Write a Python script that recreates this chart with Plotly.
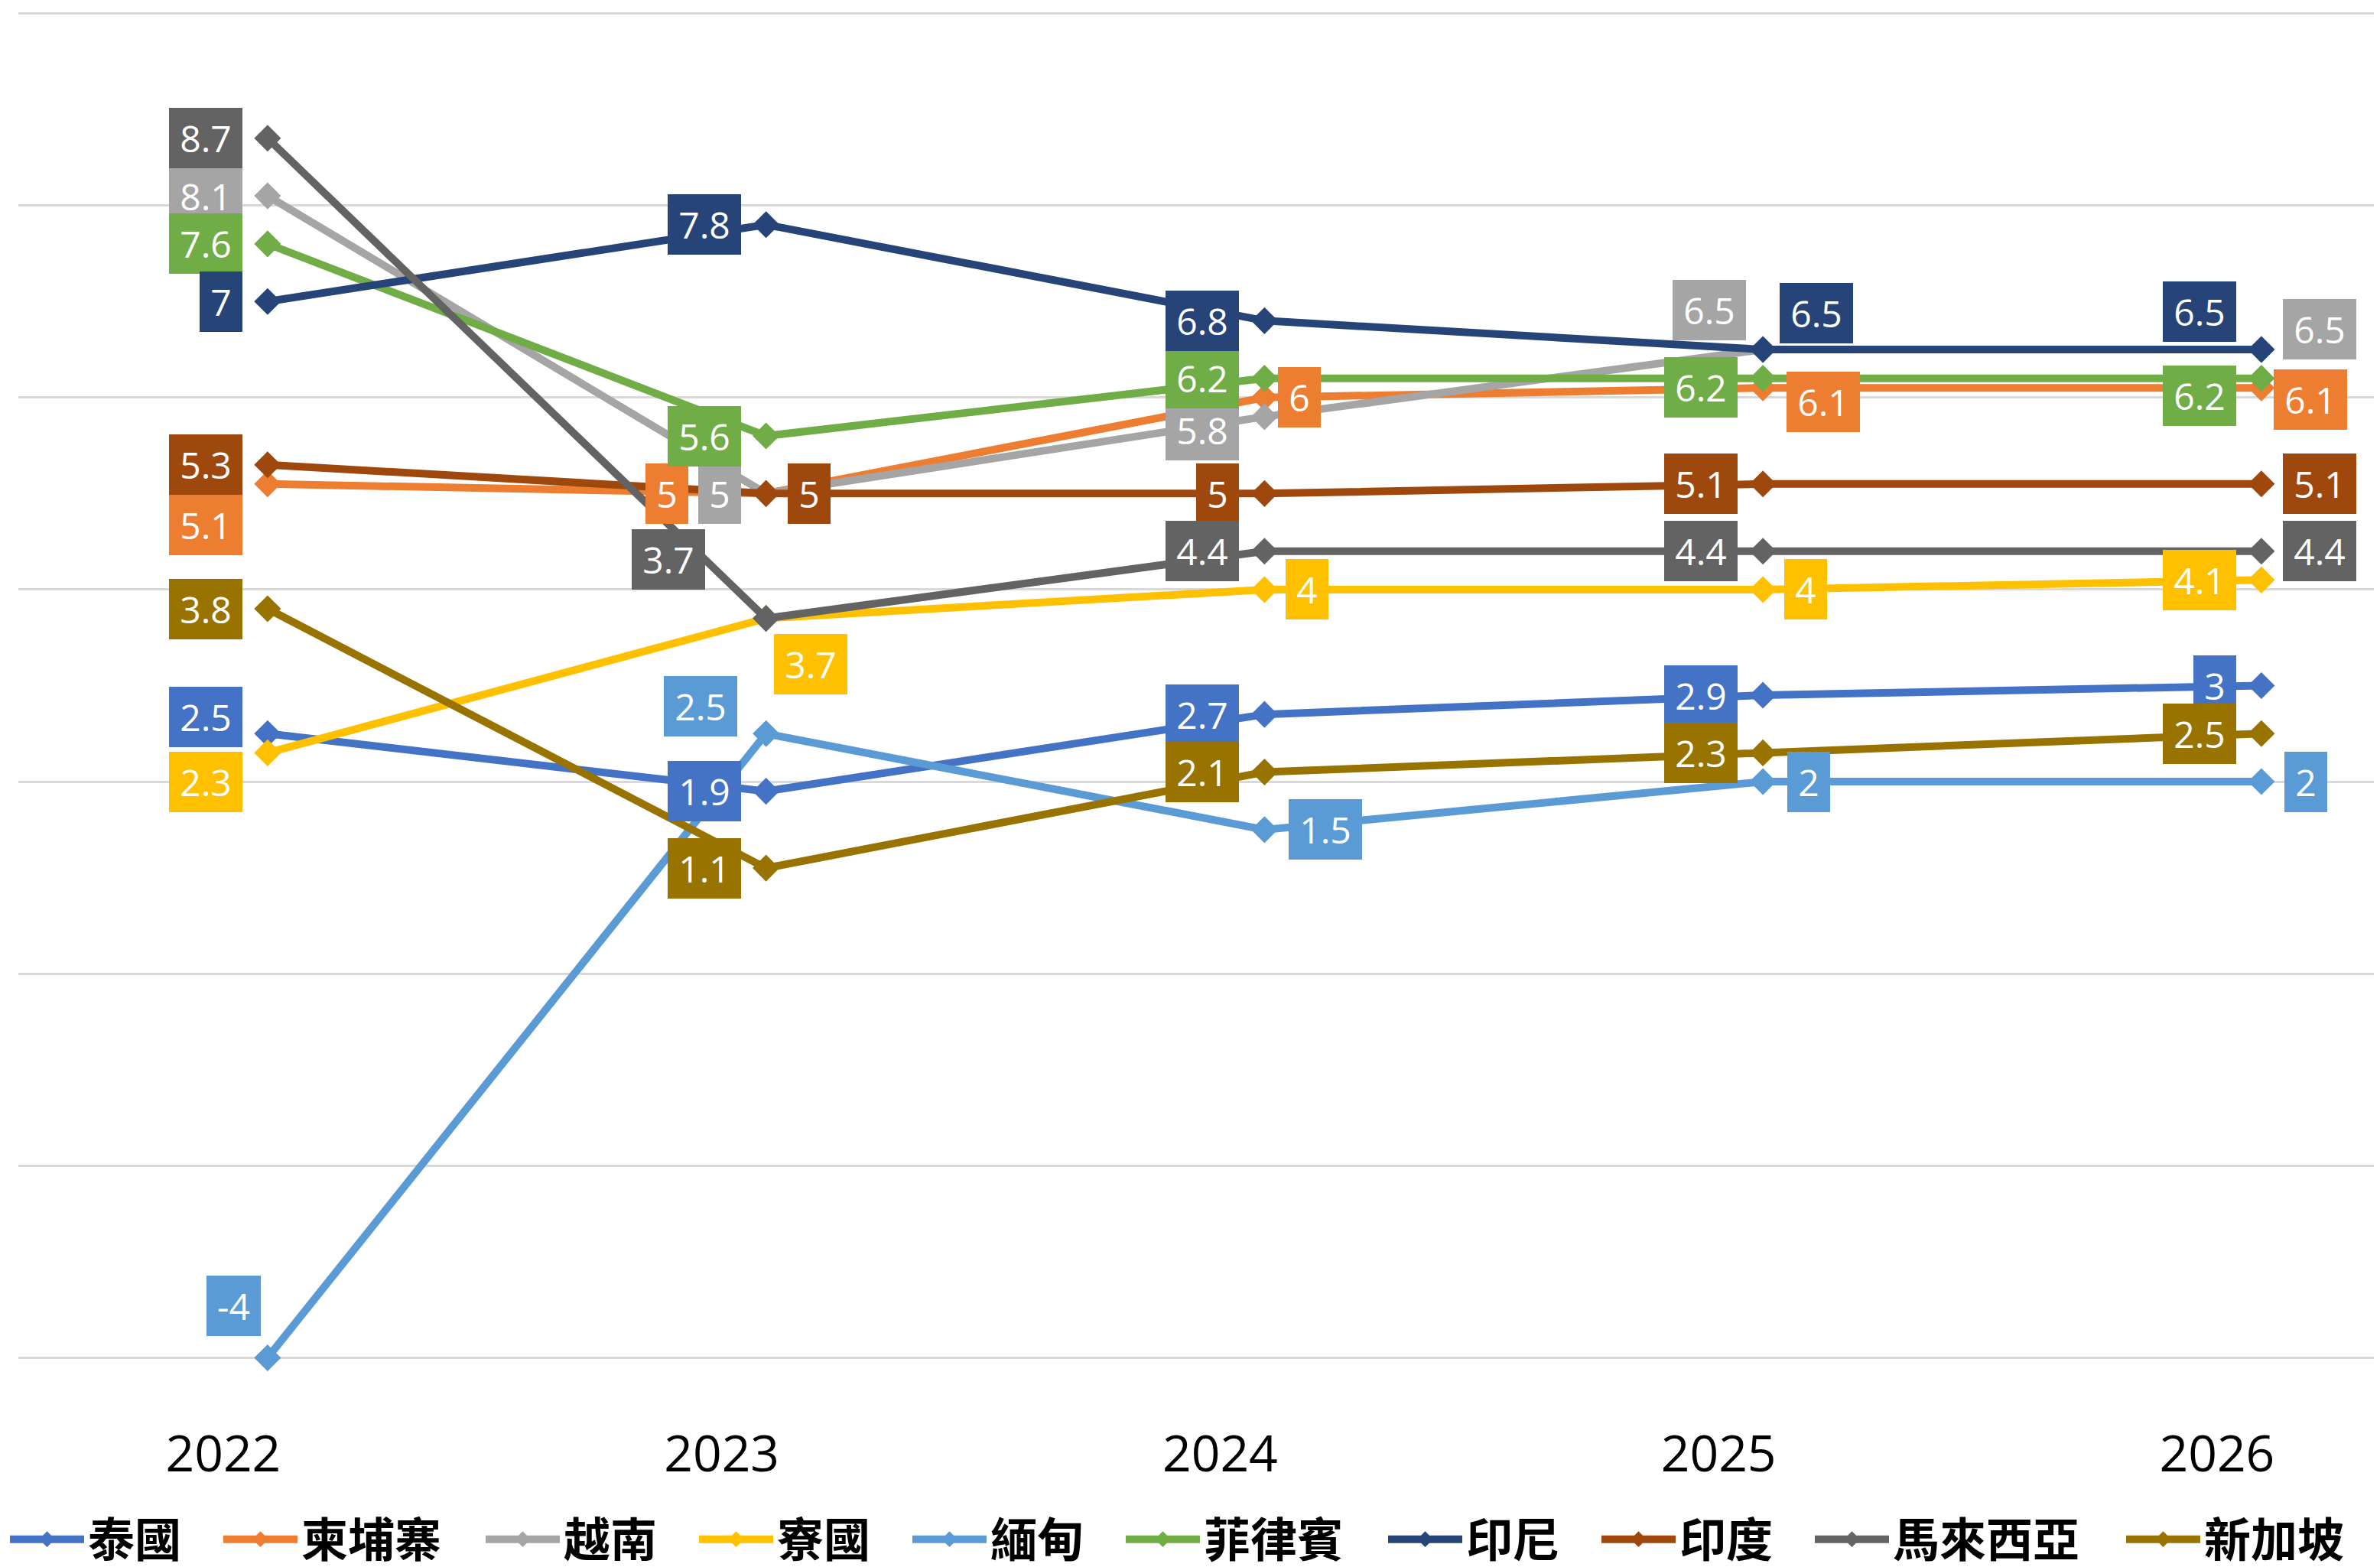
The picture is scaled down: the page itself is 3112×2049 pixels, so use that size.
import plotly.graph_objects as go

# ---------------- data ----------------
years = ["2022", "2023", "2024", "2025", "2026"]
names = ["泰國", "柬埔寨", "越南", "寮國", "緬甸", "菲律賓", "印尼", "印度", "馬來西亞", "新加坡"]

thailand = [2.5, 1.9, 2.7, 2.9, 3]
cambodia = [5.1, 5, 6, 6.1, 6.1]
vietnam = [8.1, 5, 5.8, 6.5, 6.5]
laos = [2.3, 3.7, 4, 4, 4.1]
myanmar = [-4, 2.5, 1.5, 2, 2]
philippines = [7.6, 5.6, 6.2, 6.2, 6.2]
indonesia = [7, 7.8, 6.8, 6.5, 6.5]
india = [5.3, 5, 5, 5.1, 5.1]
malaysia = [8.7, 3.7, 4.4, 4.4, 4.4]
singapore = [3.8, 1.1, 2.1, 2.3, 2.5]

series = [thailand, cambodia, vietnam, laos, myanmar,
          philippines, indonesia, india, malaysia, singapore]

# ---------------- styles ----------------
colors = ["#4472C4", "#ED7D31", "#A5A5A5", "#FFC000", "#5B9BD5",
          "#70AD47", "#264478", "#9E480E", "#636363", "#997300"]

# data-label placement per point: (side, extra dx px, extra dy px downward)
label_pos = [
    [("l", 0, -22), ("l", 0, 0), ("l", 0, 0), ("l", 0, 0), ("l", 0, 0)],
    [("l", 0, 54), ("l", -69, 0), ("r", -10, 0), ("r", 3, 18), ("r", -12, 15)],
    [("l", 0, 0), ("l", 0, 0), ("l", 0, 18), ("l", 11, -52), ("r", 0, -27)],
    [("l", 0, 38), ("r", -18, 60), ("r", 0, 0), ("r", 0, 0), ("l", 0, 0)],
    [("l", 24, -68), ("l", -5, -36), ("r", 4, 0), ("r", 4, 0), ("r", 2, 0)],
    [("l", 0, 0), ("l", 0, 0), ("l", 0, 0), ("l", 0, 12), ("l", 0, 23)],
    [("l", 0, 0), ("l", 0, 0), ("l", 0, 0), ("r", -6, -48), ("l", 0, -50)],
    [("l", 0, 0), ("r", 0, 0), ("l", 0, 0), ("l", 0, 0), ("r", 0, 0)],
    [("l", 0, 0), ("l", -47, -77), ("l", 0, 0), ("l", 0, 0), ("r", 0, 0)],
    [("l", 0, 0), ("l", 0, 0), ("l", 0, 0), ("l", 0, 0), ("l", 0, 0)],
]

W, H = 3112, 2049
OFF = 8  # page body margin offset
ML, MR, MT = 24 - OFF, OFF, 16 - OFF
MB = H - (1777 - OFF)
PW = W - ML - MR
PH = H - MT - MB
CAT_PX = 651.75  # pixel spacing between categories

LABEL_FONT = dict(family="Open Sans, Noto Sans, sans-serif", size=48, color="#FFFFFF")
LEGEND_FONT = dict(family="Noto Sans CJK TC, sans-serif", size=61, color="#000000", weight="bold")


def text_width(s):
    w = 0.0
    for ch in s:
        if ch == ".":
            w += 12.5
        elif ch == "-":
            w += 15.5
        else:
            w += 27.5
    return w


fig = go.Figure()

for i, (name, vals, col) in enumerate(zip(names, series, colors)):
    lg = "legend" if i == 0 else f"legend{i + 1}"
    fig.add_trace(go.Scatter(
        x=years, y=vals, name=name, mode="lines+markers",
        line=dict(color=col, width=10),
        marker=dict(symbol="diamond", size=27, color=col, line=dict(width=0)),
        cliponaxis=False, legend=lg, hoverinfo="skip",
    ))

for i, (vals, col) in enumerate(zip(series, colors)):
    for j, v in enumerate(vals):
        side, dx, dy = label_pos[i][j]
        txt = f"{v:g}"
        if side == "l":
            xanchor, xshift = "right", -33 + dx
        else:
            xanchor, xshift = "left", 28 + dx
        fig.add_annotation(
            x=j, y=v, xref="x", yref="y", text=txt, showarrow=False,
            xanchor=xanchor, yanchor="middle", xshift=xshift, yshift=-dy,
            bgcolor=col, borderpad=0, borderwidth=0,
            width=round(text_width(txt) + 28), height=79,
            font=LABEL_FONT, align="center", valign="middle",
        )

layout_legends = {}
start = 13.0 - OFF
for i, name in enumerate(names):
    lg = "legend" if i == 0 else f"legend{i + 1}"
    layout_legends[lg] = dict(
        orientation="h", x=(start - ML - 5) / PW, xanchor="left",
        y=(MT + PH - (2013 - OFF)) / PH, yanchor="middle",
        font=LEGEND_FONT, itemwidth=97, bgcolor="rgba(0,0,0,0)", borderwidth=0,
    )
    start += 151 + 64 * len(name)

fig.update_layout(
    width=W, height=H,
    margin=dict(l=ML, r=MR, t=MT, b=MB, pad=0, autoexpand=False),
    paper_bgcolor="#FFFFFF", plot_bgcolor="#FFFFFF",
    showlegend=True,
    xaxis=dict(
        type="category", range=[-0.5, -0.5 + PW / CAT_PX],
        showgrid=False, zeroline=False, showline=False, ticks="",
        tickfont=dict(family="Open Sans, Noto Sans, sans-serif", size=66, color="#000000"),
        ticklabelshift=-58, ticklabelstandoff=80,
    ),
    yaxis=dict(
        range=[-4.012, 10.012], tickvals=[-4, -2, 0, 2, 4, 6, 8, 10],
        showticklabels=False,
        showgrid=True, gridcolor="#D9D9D9", gridwidth=3,
        zeroline=False, showline=False, ticks="",
    ),
    **layout_legends,
)

fig.write_html("out.html")
